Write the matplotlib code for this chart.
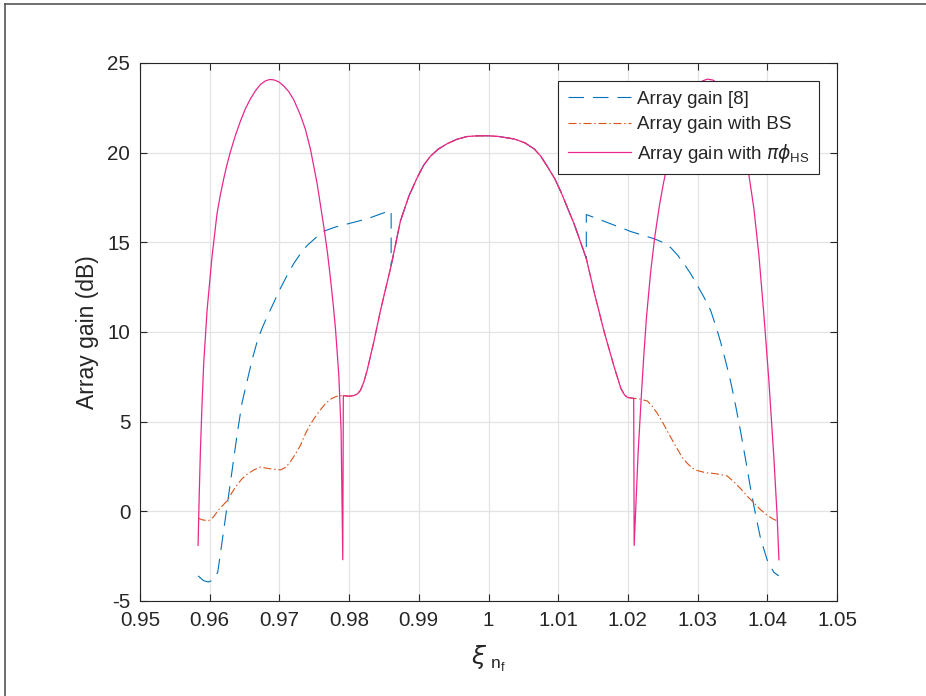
import matplotlib
matplotlib.use("Agg")
import matplotlib.pyplot as plt
from matplotlib.lines import Line2D
import numpy as np

plt.rcParams['font.family'] = ['Liberation Sans', 'DejaVu Sans']
plt.rcParams['mathtext.fontset'] = 'dejavusans'
plt.rcParams['axes.unicode_minus'] = False

# shared middle part (all three curves coincide here)
mid_x = [0.97917, 0.98000, 0.98067, 0.98120, 0.98163, 0.98210, 0.98258, 0.98354,
         0.98450, 0.98603, 0.98737, 0.98860, 0.98976, 0.99070, 0.99167, 0.99280,
         0.99407, 0.99550, 0.99694, 0.99850, 1.00000, 1.00150, 1.00372, 1.00520,
         1.00658, 1.00750, 1.00849, 1.00950, 1.01040, 1.01231, 1.01403, 1.01517,
         1.01660, 1.01803, 1.01899, 1.01950, 1.01994, 1.02083]
mid_y = [6.45, 6.42, 6.45, 6.55, 6.75, 7.2, 7.85, 9.44,
         11.2, 13.7, 16.2, 17.6, 18.6, 19.3, 19.8, 20.2,
         20.5, 20.75, 20.9, 20.94, 20.94, 20.9, 20.76, 20.55,
         20.2, 19.8, 19.2, 18.55, 17.8, 16.0, 14.1, 12.2,
         10.0, 8.05, 6.85, 6.5, 6.35, 6.3]

# Array gain [8]
blue_l_x = [0.95833, 0.95914, 0.95986, 0.96057, 0.96115, 0.96177, 0.96249, 0.96321,
            0.96392, 0.96464, 0.96536, 0.96608, 0.96679, 0.96750, 0.96823, 0.96920,
            0.97014, 0.97110, 0.97206, 0.97300, 0.97397, 0.97520, 0.97636, 0.97800,
            0.97971, 0.98258, 0.98545, 0.98603]
blue_l_y = [-3.6, -3.87, -3.94, -3.8, -3.4, -1.71, 0.28, 2.27,
            4.26, 6.06, 7.25, 8.45, 9.44, 10.2, 10.84, 11.65,
            12.43, 13.15, 13.82, 14.35, 14.82, 15.25, 15.62, 15.85,
            16.02, 16.31, 16.71, 16.77]
blue_r_x = [1.01403, 1.01708, 1.02042, 1.02376, 1.02500, 1.02615, 1.02710, 1.02805,
            1.02900, 1.02996, 1.03090, 1.03187, 1.03260, 1.03330, 1.03400, 1.03473,
            1.03545, 1.03616, 1.03690, 1.03760, 1.03830, 1.03903, 1.03998, 1.04050,
            1.04094, 1.04165]
blue_r_y = [16.55, 16.1, 15.6, 15.2, 15.0, 14.7, 14.3, 13.8,
            13.25, 12.6, 11.95, 11.2, 10.35, 9.44, 8.4, 7.25,
            5.9, 4.46, 2.85, 1.27, -0.15, -1.51, -2.71, -3.1,
            -3.4, -3.6]

# Array gain with BS
orange_l_x = [0.95833, 0.95900, 0.95986, 0.96057, 0.96130, 0.96249, 0.96320, 0.96392,
              0.96460, 0.96536, 0.96630, 0.96727, 0.96870, 0.97014, 0.97090, 0.97158,
              0.97230, 0.97301, 0.97370, 0.97445, 0.97520, 0.97588, 0.97660, 0.97732,
              0.97800, 0.97850]
orange_l_y = [-0.38, -0.48, -0.52, -0.3, 0.1, 0.58, 1.05, 1.47,
              1.8, 2.07, 2.3, 2.47, 2.37, 2.31, 2.45, 2.77,
              3.2, 3.67, 4.3, 4.86, 5.3, 5.66, 6.0, 6.25,
              6.38, 6.45]
orange_r_x = [1.02150, 1.02280, 1.02350, 1.02424, 1.02500, 1.02567, 1.02640, 1.02710,
              1.02780, 1.02853, 1.02920, 1.02996, 1.03120, 1.03234, 1.03330, 1.03425,
              1.03520, 1.03616, 1.03710, 1.03807, 1.03900, 1.03998, 1.04080, 1.04165]
orange_r_y = [6.28, 6.15, 5.85, 5.45, 4.95, 4.46, 3.95, 3.47,
              3.0, 2.67, 2.42, 2.27, 2.15, 2.11, 2.05, 1.97,
              1.65, 1.27, 0.85, 0.48, 0.1, -0.22, -0.42, -0.58]

# Array gain with pi*phi_HS
mag_l_x = [0.95833, 0.95850, 0.95866, 0.95890, 0.95914, 0.95962, 0.96033, 0.96105,
           0.96153, 0.96201, 0.96249, 0.96297, 0.96368, 0.96440, 0.96512, 0.96584,
           0.96656, 0.96727, 0.96799, 0.96861, 0.96919, 0.96990, 0.97062, 0.97134,
           0.97206, 0.97301, 0.97373, 0.97445, 0.97540, 0.97636, 0.97690, 0.97732,
           0.97770, 0.97804, 0.97852, 0.97885, 0.97909]
mag_l_y = [-1.9, 1.0, 3.3, 6.0, 8.25, 11.2, 14.2, 16.6,
           17.65, 18.55, 19.35, 20.05, 20.95, 21.75, 22.45, 23.0,
           23.45, 23.8, 24.0, 24.08, 24.06, 23.95, 23.72, 23.4,
           22.95, 22.1, 21.3, 20.2, 18.3, 15.9, 14.4, 13.0,
           11.6, 10.2, 7.6, 4.5, -2.7]
mag_r_x = [1.02090, 1.02114, 1.02147, 1.02195, 1.02230, 1.02266, 1.02325, 1.02385,
           1.02450, 1.02510, 1.02570, 1.02620, 1.02720, 1.02790, 1.02850, 1.02930,
           1.03000, 1.03070, 1.03140, 1.03220, 1.03300, 1.03370, 1.03450, 1.03530,
           1.03600, 1.03670, 1.03736, 1.03807, 1.03879, 1.03950, 1.04022, 1.04094,
           1.04140, 1.04167]
mag_r_y = [-1.9, 0.3, 3.3, 6.6, 8.8, 10.8, 13.3, 15.3,
           17.0, 18.3, 19.4, 20.2, 21.5, 22.3, 22.9, 23.45,
           23.8, 24.0, 24.1, 24.05, 23.82, 23.5, 22.95, 22.15,
           21.2, 20.05, 18.75, 16.9, 14.3, 11.0, 7.3, 3.0,
           -0.2, -2.7]

mid_x_a = np.array(mid_x)
mid_y_a = np.array(mid_y)
inner = (mid_x_a >= 0.98603) & (mid_x_a <= 1.01403)

blue_x = np.concatenate([blue_l_x, mid_x_a[inner], blue_r_x])
blue_y = np.concatenate([blue_l_y, mid_y_a[inner], blue_r_y])
orange_x = np.concatenate([orange_l_x, mid_x, orange_r_x])
orange_y = np.concatenate([orange_l_y, mid_y, orange_r_y])
mag_x = np.concatenate([mag_l_x, mid_x, mag_r_x])
mag_y = np.concatenate([mag_l_y, mid_y, mag_r_y])

fig = plt.figure(figsize=(9.26, 6.96), dpi=100)
ax = fig.add_axes([0.1512, 0.1365, 0.7527, 0.773])

ax.plot(blue_x, blue_y, color='#0072BD', lw=0.8, dashes=(14, 8), label='Array gain [8]')
ax.plot(orange_x, orange_y, color='#D95319', lw=0.8, dashes=(7.2, 2.5, 1.3, 2.5),
        label='Array gain with BS')
ax.plot(mag_x, mag_y, color='#E8288C', lw=0.9, label=r'Array gain with $\pi\phi_{\mathregular{HS}}$')

ax.set_xlim(0.95, 1.05)
ax.set_ylim(-5, 25)
ax.set_xticks(np.arange(0.95, 1.0501, 0.01))
ax.set_xticklabels(['0.95', '0.96', '0.97', '0.98', '0.99', '1', '1.01', '1.02', '1.03', '1.04', '1.05'])
ax.set_yticks([-5, 0, 5, 10, 15, 20, 25])
ax.grid(True, color='#E3E3E3', lw=0.9)
ax.set_axisbelow(True)

for s in ax.spines.values():
    s.set_color('#262626')
    s.set_linewidth(0.8)
ax.tick_params(direction='in', top=True, right=True, length=5, width=0.8,
               colors='#262626', labelsize=14.8, pad=7)

ax.set_ylabel('Array gain (dB)', fontsize=16.5, color='#262626', labelpad=6)
ax.set_xlabel(r'$\xi_{\ \mathregular{n}_{\mathregular{f}}}$', fontsize=18, color='#262626', labelpad=10)

leg = ax.legend(loc='upper right', bbox_to_anchor=(0.974, 0.9665), fontsize=13.5,
                handlelength=3.4, handletextpad=0.3, borderpad=0.5, labelspacing=0.45,
                borderaxespad=0, fancybox=False, framealpha=1, edgecolor='#262626')
leg.get_frame().set_linewidth(0.8)
for t in leg.get_texts():
    t.set_color('#262626')

# figure frame (top and left edge)
fig.add_artist(Line2D([5 / 926, 1], [1 - 4 / 696, 1 - 4 / 696], color='#555555', lw=1.2))
fig.add_artist(Line2D([5 / 926, 5 / 926], [0, 1 - 4 / 696], color='#555555', lw=1.2))

fig.savefig('out.png', dpi=100)
